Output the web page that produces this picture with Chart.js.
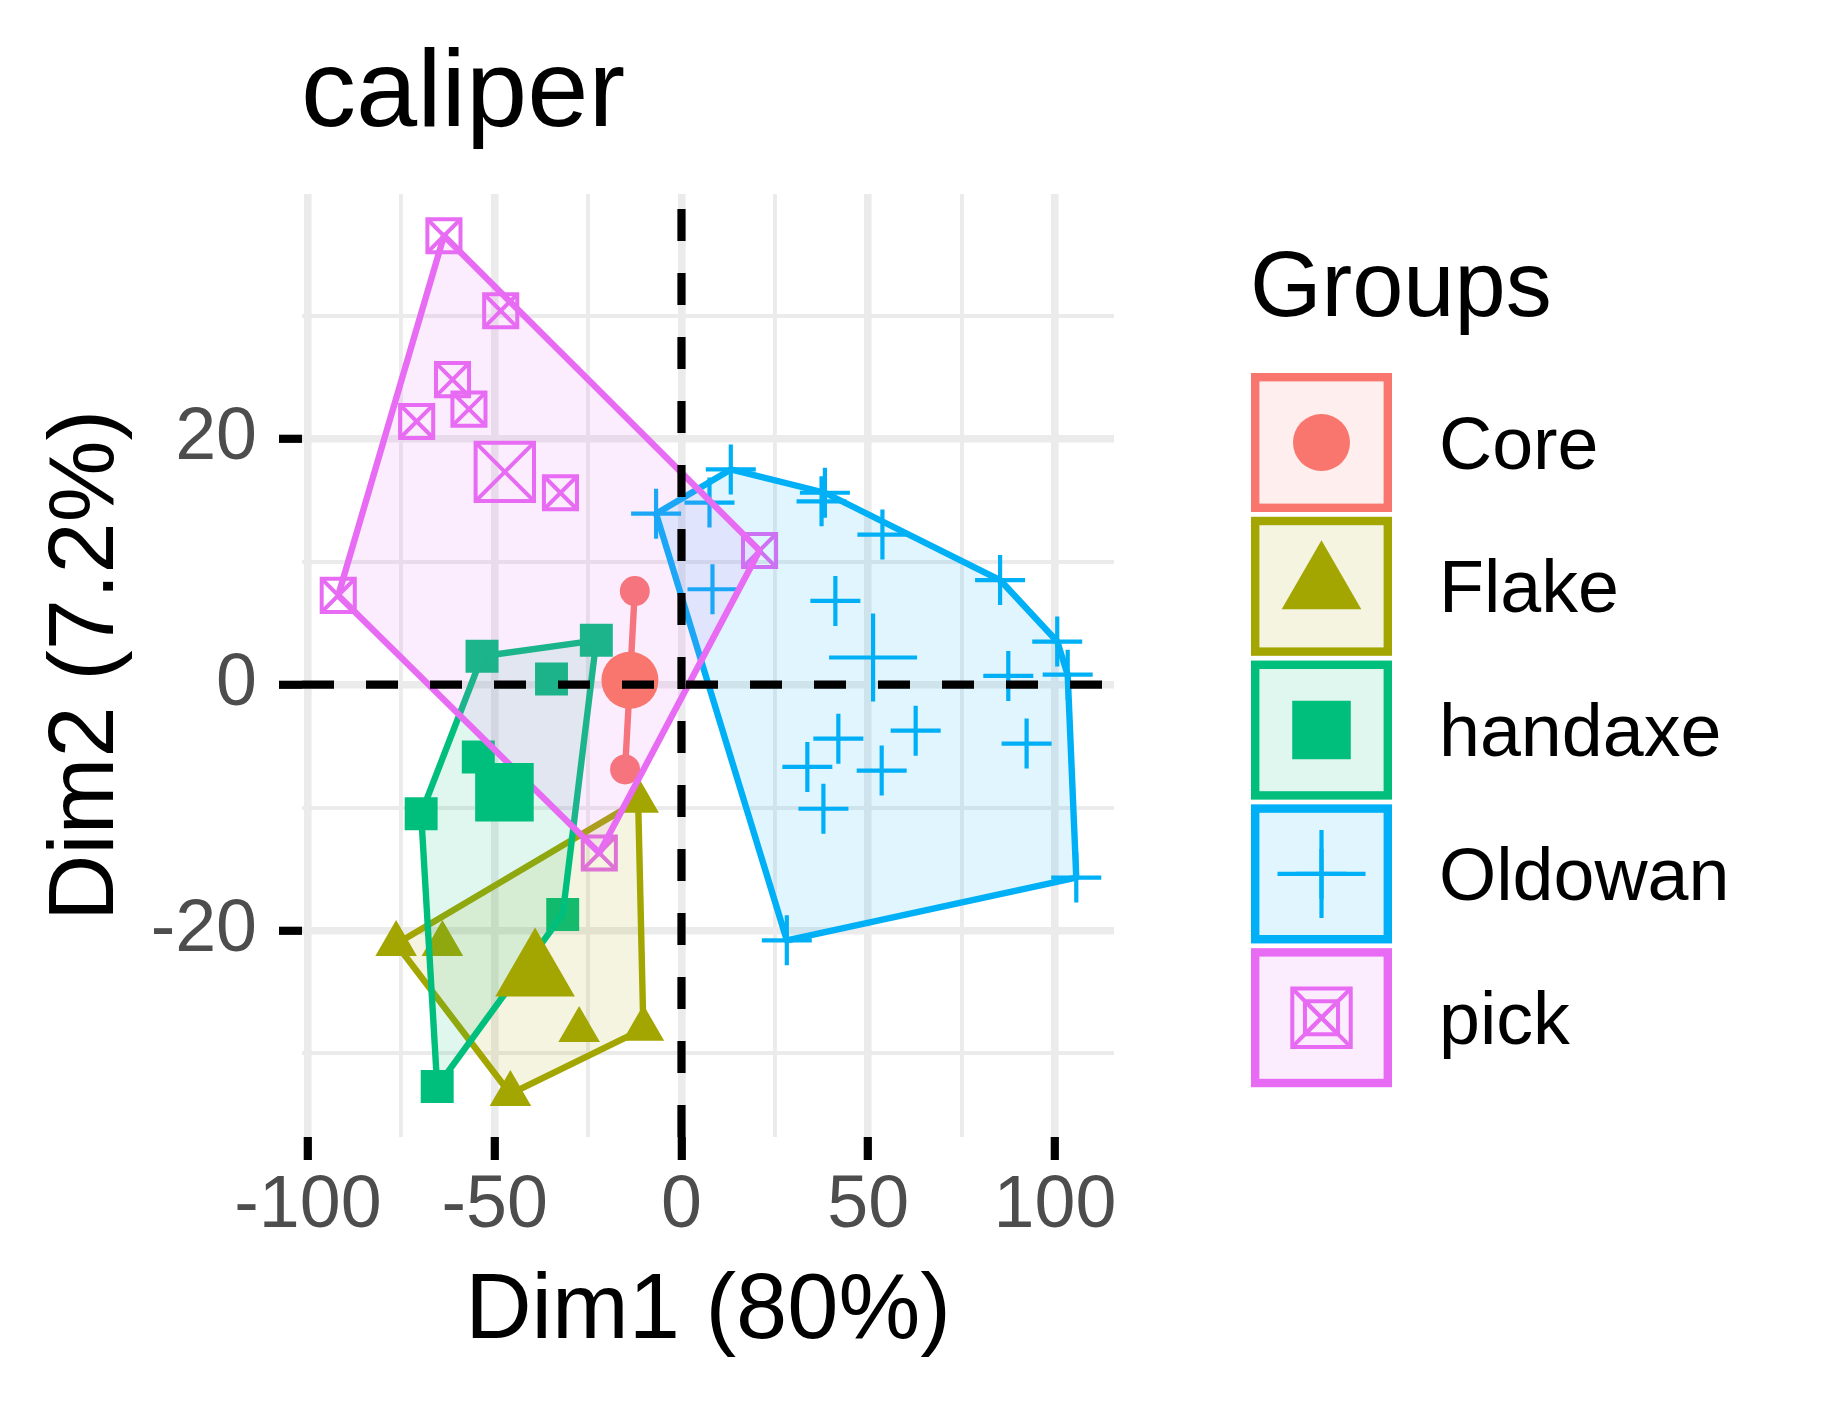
<!DOCTYPE html>
<html>
<head>
<meta charset="utf-8">
<script src="https://cdn.jsdelivr.net/npm/chart.js@4.4.1/dist/chart.umd.min.js"></script>
<style>
html,body{margin:0;padding:0;background:#ffffff;}
canvas{display:block;}
</style>
</head>
<body>
<canvas id="c" width="1821" height="1403"></canvas>
<script>
// ---------------- data ----------------
const groups = ['Core', 'Flake', 'handaxe', 'Oldowan', 'pick'];

const coreX = [-12.5, -15.1];
const coreY = [7.6, -6.9];

const flakeX = [-11.6, -76.4, -64.0, -27.4, -10.2, -45.8];
const flakeY = [-9.45, -21.1, -21.1, -28.1, -28.0, -33.3];

const handaxeX = [-53.4, -22.8, -34.8, -54.4, -69.7, -31.8, -65.4];
const handaxeY = [2.3, 3.6, 0.46, -5.9, -10.5, -18.7, -32.7];

const oldowanX = [-6.8, 7.5, 13.2, 38.4, 37.5, 53.8, 85.3, 100.6, 103.4, 105.7, 28.2, 8.3, 41.2, 87.5, 62.7, 42.0, 33.7, 53.6, 92.4, 38.0];
const oldowanY = [13.9, 14.8, 17.5, 15.6, 14.9, 12.2, 8.5, 3.5, 0.8, -15.7, -20.8, 7.75, 6.8, 0.7, -3.75, -4.4, -6.7, -7.0, -4.8, -10.1];

const pickX = [-63.6, -48.4, -61.3, -56.9, -70.9, -32.4, -91.9, 20.9, -22.0];
const pickY = [36.5, 30.4, 24.8, 22.4, 21.4, 15.6, 7.25, 10.9, -13.7];

// group mean points (larger symbols)
const meanX = [-13.8, -39.2, -47.4, 51.3, -47.3];
const meanY = [0.35, -23.5, -8.76, 2.2, 17.3];

const xTicks = [-100, -75, -50, -25, 0, 25, 50, 75, 100];
const yTicks = [-30, -20, -10, 0, 10, 20, 30];
const xLabelled = [-100, -50, 0, 50, 100];
const yLabelled = [-20, 0, 20];

const titleText = 'caliper';
const xTitleText = 'Dim1 (80%)';
const yTitleText = 'Dim2 (7.2%)';
const legendTitleText = 'Groups';

// ---------------- styling ----------------
const X_MIN = -101.6, X_MAX = 115.8, Y_MIN = -36.8, Y_MAX = 39.9;
const COLORS = ['#F8766D', '#A3A500', '#00BF7D', '#00B0F6', '#E76BF3'];
const FONT = "'Liberation Sans', Arial, Helvetica, sans-serif";
const FILL_ALPHA = 0.12;

function rgba(hex, a) {
  const n = parseInt(hex.slice(1), 16);
  return `rgba(${(n >> 16) & 255},${(n >> 8) & 255},${n & 255},${a})`;
}

// marker specs
const MARKERS = [
  {styles: ['circle'], small: 15, big: 28.5, filled: true, bw: 0},
  {styles: ['triangle'], small: 24, big: 46, filled: true, bw: 0},
  {styles: ['rect'], small: 23.3, big: 41.4, filled: true, bw: 0},
  {styles: ['cross'], small: 25, big: 44, filled: false, bw: 4.2},
  {styles: ['rect', 'crossRot'], small: 23.4, big: 41.3, filled: false, bw: 4.0}
];

const groupX = [coreX, flakeX, handaxeX, oldowanX, pickX];
const groupY = [coreY, flakeY, handaxeY, oldowanY, pickY];

function toPts(xs, ys) { return xs.map((x, i) => ({x: x, y: ys[i]})); }

function convexHull(pts) {
  const p = pts.slice().sort((a, b) => a.x - b.x || a.y - b.y);
  if (p.length < 3) return p;
  const cross = (o, a, b) => (a.x - o.x) * (b.y - o.y) - (a.y - o.y) * (b.x - o.x);
  const lower = [];
  for (const q of p) {
    while (lower.length >= 2 && cross(lower[lower.length - 2], lower[lower.length - 1], q) <= 0) lower.pop();
    lower.push(q);
  }
  const upper = [];
  for (let i = p.length - 1; i >= 0; i--) {
    const q = p[i];
    while (upper.length >= 2 && cross(upper[upper.length - 2], upper[upper.length - 1], q) <= 0) upper.pop();
    upper.push(q);
  }
  upper.pop(); lower.pop();
  return lower.concat(upper);
}

// ---------------- datasets ----------------
const datasets = [];

// reference dashed lines (on top)
datasets.push({
  label: 'vline', data: [{x: 0, y: Y_MIN}, {x: 0, y: Y_MAX}], showLine: true,
  borderColor: '#000000', borderWidth: 8.2, borderDash: [32, 32], pointRadius: 0, fill: false, order: 0
});
datasets.push({
  label: 'hline', data: [{x: X_MIN, y: 0}, {x: X_MAX, y: 0}], showLine: true,
  borderColor: '#000000', borderWidth: 8.2, borderDash: [32, 32], pointRadius: 0, fill: false, order: 0
});

groups.forEach((g, gi) => {
  const col = COLORS[gi];
  const m = MARKERS[gi];
  const pts = toPts(groupX[gi], groupY[gi]);
  // mean points
  m.styles.forEach(st => {
    datasets.push({
      label: g + ' mean', data: [{x: meanX[gi], y: meanY[gi]}],
      pointStyle: st, pointRadius: m.big,
      pointBackgroundColor: m.filled ? col : 'rgba(0,0,0,0)',
      pointBorderColor: col, pointBorderWidth: m.bw,
      showLine: false, order: 1
    });
  });
  // convex hull polygon
  const hull = convexHull(pts);
  const closed = hull.concat([hull[0]]);
  datasets.push({
    label: g + ' hull', data: closed, showLine: true, fill: 'shape',
    backgroundColor: rgba(col, FILL_ALPHA), borderColor: col, borderWidth: 6.4,
    borderJoinStyle: 'round', tension: 0, pointRadius: 0, order: 6 - gi
  });
  // individual points
  m.styles.forEach(st => {
    datasets.push({
      label: g, data: pts,
      pointStyle: st, pointRadius: m.small,
      pointBackgroundColor: m.filled ? col : 'rgba(0,0,0,0)',
      pointBorderColor: col, pointBorderWidth: m.bw,
      showLine: false, order: 10
    });
  });
});

// ---------------- text + legend plugin ----------------
function drawSymbol(ctx, gi, r, cx, cy) {
  const m = MARKERS[gi];
  const col = COLORS[gi];
  m.styles.forEach(st => {
    ctx.save();
    ctx.fillStyle = m.filled ? col : 'rgba(0,0,0,0)';
    ctx.strokeStyle = col;
    ctx.lineWidth = m.bw;
    Chart.helpers.drawPoint(ctx, {pointStyle: st, radius: r, rotation: 0, borderWidth: m.bw}, cx, cy);
    ctx.restore();
  });
}

const textPlugin = {
  id: 'ggTexts',
  afterDraw(chart) {
    const ctx = chart.ctx;
    const ca = chart.chartArea;
    ctx.save();
    ctx.fillStyle = '#000000';
    ctx.textBaseline = 'alphabetic';
    // title
    ctx.textAlign = 'left';
    ctx.font = `110px ${FONT}`;
    ctx.fillText(titleText, ca.left - 1, 126);
    // x title
    ctx.textAlign = 'center';
    ctx.font = `92px ${FONT}`;
    ctx.fillText(xTitleText, (ca.left + ca.right) / 2, 1338);
    // y title
    ctx.save();
    ctx.translate(113, (ca.top + ca.bottom) / 2);
    ctx.rotate(-Math.PI / 2);
    ctx.fillText(yTitleText, 0, 0);
    ctx.restore();
    // legend title
    ctx.textAlign = 'left';
    ctx.fillText(legendTitleText, 1250, 316);
    // legend keys
    const keyLeft = 1251, keyW = 141, keyH = 139, top0 = 373, pitch = 143.8, bw = 8.4;
    groups.forEach((g, gi) => {
      const top = top0 + gi * pitch;
      const col = COLORS[gi];
      ctx.fillStyle = rgba(col, FILL_ALPHA);
      ctx.fillRect(keyLeft, top, keyW, keyH);
      ctx.strokeStyle = col;
      ctx.lineWidth = bw;
      ctx.strokeRect(keyLeft + bw / 2, top + bw / 2, keyW - bw, keyH - bw);
      const cx = keyLeft + keyW / 2, cy = top + keyH / 2;
      drawSymbol(ctx, gi, MARKERS[gi].big, cx, cy);
      drawSymbol(ctx, gi, MARKERS[gi].small, cx, cy);
      ctx.fillStyle = '#000000';
      ctx.font = `73.6px ${FONT}`;
      ctx.textAlign = 'left';
      ctx.fillText(g, 1439, cy + 26);
    });
    ctx.restore();
  }
};

// ---------------- chart ----------------
const GRID = '#EBEBEB';
new Chart(document.getElementById('c'), {
  type: 'scatter',
  data: {datasets: datasets},
  plugins: [textPlugin],
  options: {
    responsive: false,
    animation: false,
    events: [],
    layout: {padding: {left: 0, top: 194, right: 707, bottom: 0}},
    plugins: {legend: {display: false}, tooltip: {enabled: false}, title: {display: false}},
    elements: {line: {tension: 0}},
    scales: {
      x: {
        type: 'linear', min: X_MIN, max: X_MAX,
        afterBuildTicks: s => { s.ticks = xTicks.map(v => ({value: v})); },
        afterFit: s => { s.height = 266; },
        border: {display: false},
        grid: {
          color: GRID,
          lineWidth: c => (xLabelled.includes(c.tick && c.tick.value) ? 7.6 : 3.9),
          tickLength: 23,
          tickWidth: 8.2,
          tickColor: c => (xLabelled.includes(c.tick && c.tick.value) ? '#000000' : 'rgba(0,0,0,0)')
        },
        ticks: {
          autoSkip: false, maxRotation: 0, minRotation: 0, padding: 3,
          color: '#4D4D4D', font: {family: FONT, size: 73.6},
          callback: v => (xLabelled.includes(v) ? String(v) : '')
        }
      },
      y: {
        type: 'linear', min: Y_MIN, max: Y_MAX,
        afterBuildTicks: s => { s.ticks = yTicks.map(v => ({value: v})); },
        afterFit: s => { s.width = 302; },
        border: {display: false},
        grid: {
          color: GRID,
          lineWidth: c => (yLabelled.includes(c.tick && c.tick.value) ? 7.6 : 3.9),
          tickLength: 23,
          tickWidth: 8.2,
          tickColor: c => (yLabelled.includes(c.tick && c.tick.value) ? '#000000' : 'rgba(0,0,0,0)')
        },
        ticks: {
          autoSkip: false, padding: 22,
          color: '#4D4D4D', font: {family: FONT, size: 73.6},
          callback: v => (yLabelled.includes(v) ? String(v) : '')
        }
      }
    }
  }
});
</script>
</body>
</html>
